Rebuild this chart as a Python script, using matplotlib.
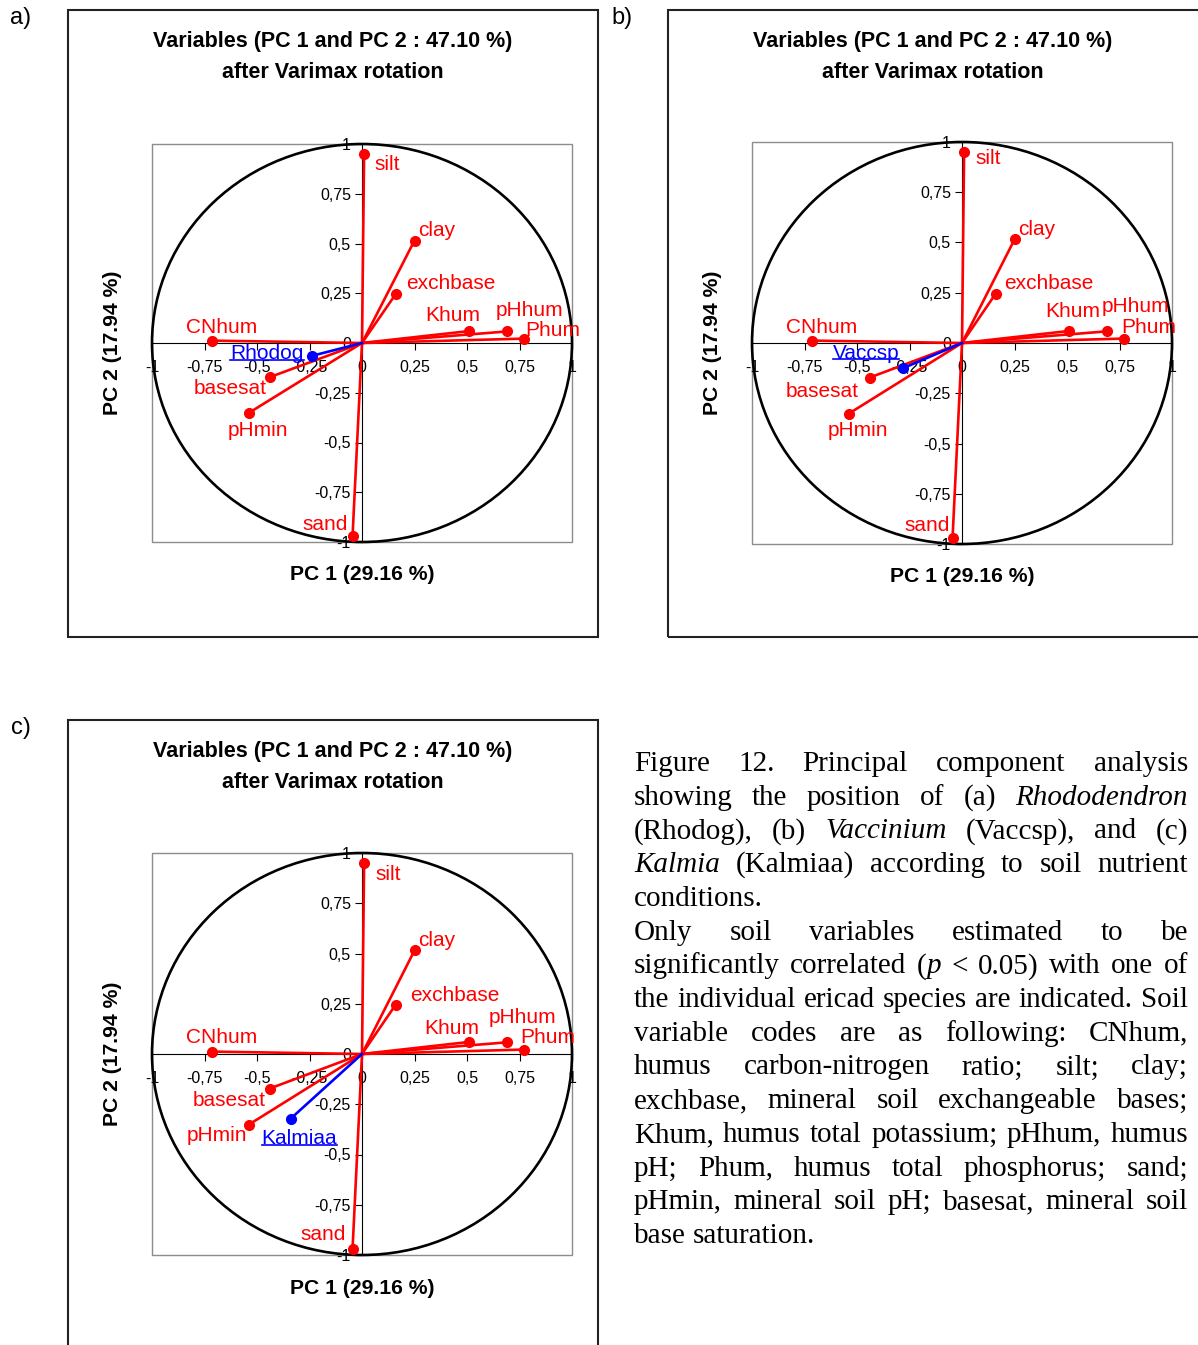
import matplotlib
matplotlib.use('Agg')
import matplotlib.pyplot as plt
from matplotlib.patches import Circle, Rectangle
from matplotlib.lines import Line2D

#DATA ------------------------------------------------------------------
variables = ['silt', 'clay', 'exchbase', 'Khum', 'pHhum', 'Phum',
             'CNhum', 'basesat', 'pHmin', 'sand']
pc1 = [0.01, 0.25, 0.16, 0.51, 0.69, 0.77, -0.715, -0.44, -0.54, -0.045]
pc2 = [0.95, 0.515, 0.245, 0.06, 0.058, 0.022, 0.012, -0.172, -0.352, -0.97]

species = ['Rhodog', 'Vaccsp', 'Kalmiaa']
species_pc1 = [-0.24, -0.28, -0.34]
species_pc2 = [-0.065, -0.125, -0.322]

tick_values = [-1, -0.75, -0.5, -0.25, 0, 0.25, 0.5, 0.75, 1]
tick_labels = ['-1', '-0,75', '-0,5', '-0,25', '0', '0,25', '0,5', '0,75', '1']

panel_letters = ['a)', 'b)', 'c)']
title1 = 'Variables (PC 1 and PC 2 : 47.10 %)'
title2 = 'after Varimax rotation'
xlabel = 'PC 1 (29.16 %)'
ylabel = 'PC 2 (17.94 %)'

# *word* = italic
caption = [
    'Figure 12. Principal component analysis',
    'showing the position of (a) *Rhododendron*',
    '(Rhodog), (b) *Vaccinium* (Vaccsp), and (c)',
    '*Kalmia* (Kalmiaa) according to soil nutrient',
    'conditions.',
    'Only soil variables estimated to be',
    'significantly correlated (*p* < 0.05) with one of',
    'the individual ericad species are indicated. Soil',
    'variable codes are as following: CNhum,',
    'humus carbon-nitrogen ratio; silt; clay;',
    'exchbase, mineral soil exchangeable bases;',
    'Khum, humus total potassium; pHhum, humus',
    'pH; Phum, humus total phosphorus; sand;',
    'pHmin, mineral soil pH; basesat, mineral soil',
    'base saturation.',
]
paragraph_ends = [4, 14]

#LAYOUT (pixels) -------------------------------------------------------
W, H = 1198, 1345
SANS = 'Liberation Sans'
SERIF = 'Liberation Serif'
RED = '#ff0000'
BLUE = '#0000ff'

frames = [(68, 10, 598, 637), (668, 10, 1210, 637), (68, 720, 598, 1360)]
plots = [(152, 144, 572, 542), (752, 142, 1172, 544), (152, 853, 572, 1255)]
letters_pos = [(21, 18), (622, 18), (21, 728)]
title_cx = [333, 933, 333]

# label offsets (dx, dy, ha) in pixels, per panel
offsets = [
    {'silt': (10, -9, 'left'), 'clay': (4, 12, 'left'), 'exchbase': (11, 13, 'left'),
     'Khum': (-16, 18, 'center'), 'pHhum': (23, 23, 'center'), 'Phum': (2, 10, 'left'),
     'CNhum': (-26, 15, 'left'), 'basesat': (-3, -9, 'right'), 'pHmin': (-21, -15, 'left'),
     'sand': (-5, 14, 'right'), 'Rhodog': (-8, 4, 'right')},
    {'silt': (11, -4, 'left'), 'clay': (4, 12, 'left'), 'exchbase': (9, 12, 'left'),
     'Khum': (-24, 21, 'left'), 'pHhum': (-5, 27, 'left'), 'Phum': (-2, 13, 'left'),
     'CNhum': (-26, 15, 'left'), 'basesat': (-11, -12, 'right'), 'pHmin': (-21, -15, 'left'),
     'sand': (-3, 14, 'right'), 'Vaccsp': (-4, 17, 'right')},
    {'silt': (11, -9, 'left'), 'clay': (4, 12, 'left'), 'exchbase': (15, 11, 'left'),
     'Khum': (-45, 15, 'left'), 'pHhum': (-18, 27, 'left'), 'Phum': (-3, 14, 'left'),
     'CNhum': (-26, 16, 'left'), 'basesat': (-4, -10, 'right'), 'pHmin': (-1, -9, 'right'),
     'sand': (-7, 16, 'right'), 'Kalmiaa': (-29, -18, 'left')},
]


def fx(x):
    return x / W


def fy(y):
    return 1 - y / H


fig = plt.figure(figsize=(W / 100, H / 100), dpi=100)
underlined = []


def draw_panel(i):
    l, t, r, b = plots[i]
    ax = fig.add_axes([fx(l), fy(b), (r - l) / W, (b - t) / H])
    ax.set_xlim(-1, 1)
    ax.set_ylim(-1, 1)

    # axes through origin + grey plot frame
    for s in ['top', 'right']:
        ax.spines[s].set_visible(False)
    for s in ['left', 'bottom']:
        ax.spines[s].set_position(('data', 0))
        ax.spines[s].set_linewidth(0.8)
    ax.add_patch(Rectangle((0, 0), 1, 1, transform=ax.transAxes, fill=False,
                           ec='#8c8c8c', lw=1, clip_on=False, zorder=0))
    ax.set_xticks(tick_values, tick_labels, fontfamily=SANS)
    ax.set_yticks(tick_values, tick_labels, fontfamily=SANS)
    ax.tick_params(axis='x', direction='out', length=5, width=0.8, pad=7, labelsize=11.5)
    ax.tick_params(axis='y', direction='out', length=5, width=0.8, pad=3, labelsize=11.5)

    ax.add_patch(Circle((0, 0), 1, fill=False, ec='black', lw=1.9, clip_on=False, zorder=2))

    # soil variables
    for name, x, y in zip(variables, pc1, pc2):
        ax.plot([0, x], [0, y], color=RED, lw=1.9, zorder=3)
        dx, dy, ha = offsets[i][name]
        ax.annotate(name, (x, y), xytext=(dx, dy - 2), textcoords='offset pixels',
                    ha=ha, va='center', color=RED, fontsize=15, family=SANS,
                    annotation_clip=False, zorder=5)
    ax.plot(pc1, pc2, 'o', color=RED, ms=7, zorder=4, clip_on=False)

    # species vector
    sp, x, y = species[i], species_pc1[i], species_pc2[i]
    ax.plot([0, x], [0, y], color=BLUE, lw=1.9, zorder=3)
    ax.plot([x], [y], 'o', color=BLUE, ms=7, zorder=4)
    dx, dy, ha = offsets[i][sp]
    st = ax.annotate(sp, (x, y), xytext=(dx, dy - 2), textcoords='offset pixels',
                     ha=ha, va='center', color=BLUE, fontsize=15, family=SANS, zorder=5)
    underlined.append(st)

    # texts around the plot
    fl, ft, fr, fb = frames[i]
    fig.add_artist(Rectangle((fx(fl), fy(fb)), (fr - fl) / W, (fb - ft) / H,
                             transform=fig.transFigure, fill=False, ec='#222222', lw=1.5))
    fig.text(fx(title_cx[i]), fy(ft + 32), title1, ha='center', va='center',
             fontsize=15.5, fontweight='bold', family=SANS)
    fig.text(fx(title_cx[i]), fy(ft + 62), title2, ha='center', va='center',
             fontsize=15.5, fontweight='bold', family=SANS)
    fig.text(fx((l + r) / 2), fy(b + 33), xlabel, ha='center', va='center',
             fontsize=15.2, fontweight='bold', family=SANS)
    fig.text(fx(l - 40), fy((t + b) / 2), ylabel, ha='center', va='center',
             rotation=90, fontsize=15.2, fontweight='bold', family=SANS)
    lx, ly = letters_pos[i]
    fig.text(fx(lx), fy(ly), panel_letters[i], ha='center', va='center',
             fontsize=17, family=SANS)


for i in range(3):
    draw_panel(i)

#CAPTION (justified) ---------------------------------------------------
CAP_FS = 21
CAP_LEFT, CAP_RIGHT = 634, 1188
CAP_TOP, CAP_STEP = 771, 33.72

fig.canvas.draw()
renderer = fig.canvas.get_renderer()


def split_word(word):
    parts = word.split('*')
    return [(p, 'italic' if k % 2 else 'normal') for k, p in enumerate(parts) if p]


def seg_width(txt, style):
    t = fig.text(0, 0, txt, fontsize=CAP_FS, family=SERIF, style=style)
    w = t.get_window_extent(renderer).width
    t.remove()
    return w


space_w = seg_width('a a', 'normal') - seg_width('aa', 'normal')

for n, line in enumerate(caption):
    words = [split_word(w) for w in line.split(' ')]
    widths = [[seg_width(s, st) for s, st in w] for w in words]
    total = sum(sum(w) for w in widths)
    if n in paragraph_ends or len(words) == 1:
        gap = space_w
    else:
        gap = (CAP_RIGHT - CAP_LEFT - total) / (len(words) - 1)
    x = CAP_LEFT
    y = CAP_TOP + n * CAP_STEP
    for segs, ws in zip(words, widths):
        for (s, st), w in zip(segs, ws):
            fig.text(fx(x), fy(y), s, fontsize=CAP_FS, family=SERIF, style=st,
                     ha='left', va='baseline')
            x += w
        x += gap

# underline species labels
fig.canvas.draw()
for t in underlined:
    bb = t.get_window_extent(renderer)
    yl = bb.y0 + 3.5
    fig.add_artist(Line2D([bb.x0 / W, bb.x1 / W], [yl / H, yl / H],
                          transform=fig.transFigure, color=BLUE, lw=1.2))

fig.savefig('out.png', dpi=100)
